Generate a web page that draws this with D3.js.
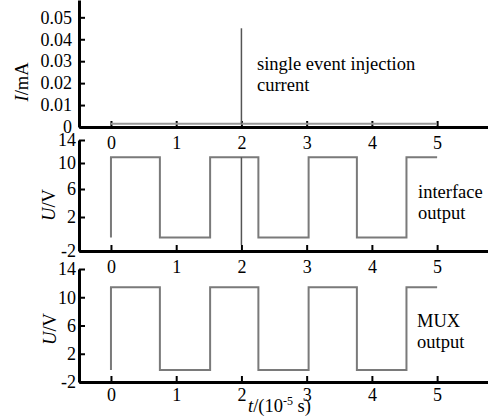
<!DOCTYPE html>
<html>
<head>
<meta charset="utf-8">
<style>
body { margin: 0; background: #fff; }
svg { display: block; font-family: "Liberation Serif", "Times New Roman", serif; }
.axis path, .axis line { stroke: #000; }
.axis path { stroke-width: 3px; }
.axis line { stroke-width: 2px; }
.axis text { font-size: 18px; fill: #000; font-family: "Liberation Serif", serif; }
.wave { fill: none; stroke: #7a7a7a; stroke-width: 2px; }
.glitch { fill: none; stroke: #555; stroke-width: 1.5px; }
.base { fill: none; stroke: #999; stroke-width: 2px; }
.note { font-size: 18.5px; fill: #000; }
</style>
</head>
<body>
<svg width="488" height="417"></svg>

<script src="https://d3js.org/d3.v7.min.js"></script>
<script>

// x ticks (10^-5 s)
var timeTicks = [0, 1, 2, 3, 4, 5];

// injection current panel
var currentTicks = [0, 0.01, 0.02, 0.03, 0.04, 0.05];
var currentT = [0, 5];
var currentI = [0.0015, 0.0015];
var spikeT = [2, 2];
var spikeI = [0.0015, 0.045];

// voltage ticks
var voltTicks = [14, 10, 6, 2, -2];

// interface output
var interfaceT = [0, 0, 0.75, 1.52, 2.26, 3.03, 3.77, 4.53, 5];
var interfaceU = [-0.4, 11, -0.4, 11, -0.4, 11, -0.4, 11, 11];
var interfaceGlitchT = [2, 2];
var interfaceGlitchU = [11, -1.3];

// MUX output
var muxT = [0, 0, 0.75, 1.52, 2.26, 3.03, 3.77, 4.53, 5];
var muxU = [-0.3, 11.4, -0.3, 11.4, -0.3, 11.4, -0.3, 11.4, 11.4];

var svg = d3.select("svg"),
    width = +svg.attr("width"),
    height = +svg.attr("height");

var x = d3.scaleLinear()
    .domain([-0.49, 5.78])
    .range([79, width]);

function pts(xs, ys) {
    return xs.map(function(t, i) { return [t, ys[i]]; });
}

// one panel: y scale, ticks, tick format, label padding
function panel(opts) {
    var g = svg.append("g");
    var y = opts.y;

    g.append("g")
        .attr("class", "axis")
        .attr("transform", "translate(0," + y(opts.base) + ")")
        .call(d3.axisBottom(x)
            .tickValues(timeTicks)
            .tickFormat(d3.format("d"))
            .tickSizeInner(-6)
            .tickSizeOuter(0)
            .tickPadding(opts.xPad));

    g.append("g")
        .attr("class", "axis")
        .attr("transform", "translate(79,0)")
        .call(d3.axisLeft(y)
            .tickValues(opts.ticks)
            .tickFormat(opts.fmt)
            .tickSizeInner(-6)
            .tickSizeOuter(0)
            .tickPadding(opts.yPad));

    return g;
}

var line = d3.line();
var step = d3.line().curve(d3.curveStepAfter);

// --- top: current
var yI = d3.scaleLinear().domain([0, 0.0579]).range([127, 0]);
var gI = panel({
    y: yI, base: 0, ticks: currentTicks, xPad: 9, yPad: 7,
    fmt: function(d) { return d === 0 ? "0" : d3.format(".2f")(d); }
});
gI.append("path")
    .attr("class", "base")
    .attr("d", line(pts(currentT, currentI).map(function(p) { return [x(p[0]), yI(p[1])]; })));
gI.append("path")
    .attr("class", "glitch")
    .attr("d", line(pts(spikeT, spikeI).map(function(p) { return [x(p[0]), yI(p[1])]; })));

// --- middle: interface output (tick spacing in the original is uneven)
var yU1 = d3.scaleLinear().domain([-2, 2, 6, 10, 14]).range([251, 217, 189, 163, 140]);
var gU1 = panel({
    y: yU1, base: -2, ticks: voltTicks, xPad: 9, yPad: 3,
    fmt: function(d) { return String(d); }
});
gU1.append("path")
    .attr("class", "wave")
    .attr("d", step(pts(interfaceT, interfaceU).map(function(p) { return [x(p[0]), yU1(p[1])]; })));
gU1.append("path")
    .attr("class", "glitch")
    .attr("d", line(pts(interfaceGlitchT, interfaceGlitchU).map(function(p) { return [x(p[0]), yU1(p[1])]; })));

// --- bottom: MUX output
var yU2 = d3.scaleLinear().domain([-2, 14]).range([382, 269]);
var gU2 = panel({
    y: yU2, base: -2, ticks: voltTicks, xPad: 6, yPad: 3,
    fmt: function(d) { return String(d); }
});
gU2.append("path")
    .attr("class", "wave")
    .attr("d", step(pts(muxT, muxU).map(function(p) { return [x(p[0]), yU2(p[1])]; })));

// axis titles
function yTitle(cx, cy, main, unit) {
    var t = svg.append("text")
        .attr("class", "note")
        .attr("transform", "translate(" + cx + "," + cy + ") rotate(-90)")
        .attr("text-anchor", "middle");
    t.append("tspan").attr("font-style", "italic").text(main);
    t.append("tspan").text("/" + unit);
}
yTitle(28, 82, "I", "mA");
yTitle(55, 205, "U", "V");
yTitle(56, 329, "U", "V");

var xt = svg.append("text")
    .attr("class", "note")
    .attr("x", 248)
    .attr("y", 412);
xt.append("tspan").attr("font-style", "italic").text("t");
xt.append("tspan").text("/(10");
xt.append("tspan").attr("dy", -7).attr("font-size", 12).text("-5");
xt.append("tspan").attr("dy", 7).text(" s)");

// annotations
function note(px, py, lines) {
    var t = svg.append("text").attr("class", "note");
    lines.forEach(function(s, i) {
        t.append("tspan").attr("x", px).attr("y", py + i * 21).text(s);
    });
}
note(257, 70, ["single event injection", "current"]);
note(418, 198, ["interface", "output"]);
note(417, 327, ["MUX", "output"]);

</script>
</body>
</html>
